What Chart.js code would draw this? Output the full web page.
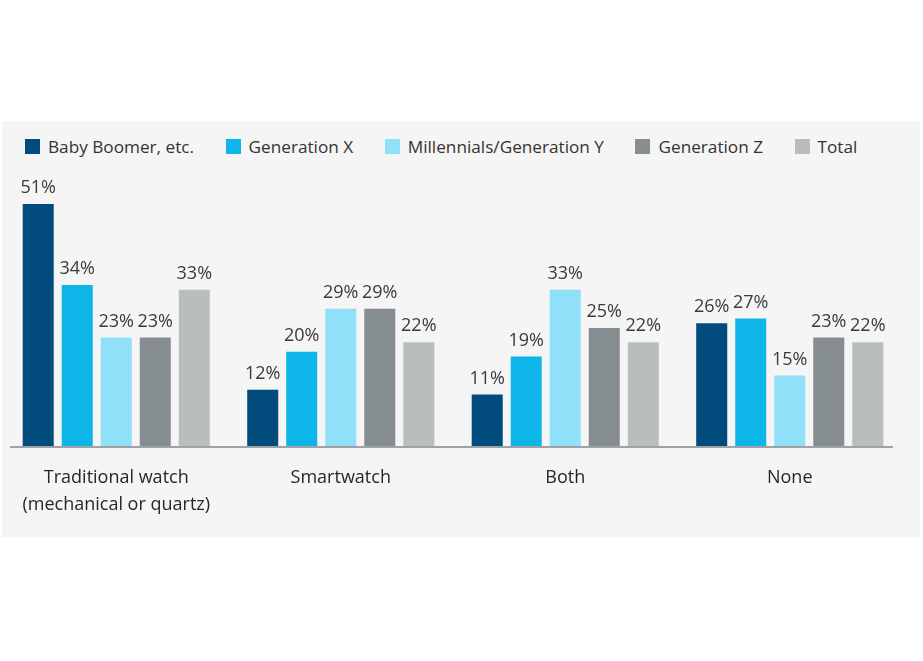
<!DOCTYPE html>
<html>
<head>
<meta charset="utf-8">
<script src="https://cdn.jsdelivr.net/npm/chart.js@4/dist/chart.umd.min.js"></script>
<style>
  html, body { margin: 0; padding: 0; background: #ffffff; }
  body { width: 923px; height: 661px; position: relative; overflow: hidden; font-family: "Open Sans", sans-serif; }
  #panel { position: absolute; left: 2px; top: 121px; width: 918px; height: 416px; background: #f5f5f5; }
  #legend { position: absolute; left: 25px; top: 135px; display: flex; align-items: center; font-size: 17.2px; color: #333; white-space: nowrap; }
  #legend .item { display: flex; align-items: center; margin-right: 31.5px; }
  #legend .box { width: 15px; height: 15px; margin-right: 8px; }
  #wrap { position: absolute; left: 0; top: 0; width: 923px; height: 661px; }
</style>
</head>
<body>
<div id="panel"></div>
<div id="legend"></div>
<div id="wrap"><canvas id="c" width="923" height="661"></canvas></div>
<script>
const categories = [["Traditional watch", "(mechanical or quartz)"], "Smartwatch", "Both", "None"];
const seriesNames = ["Baby Boomer, etc.", "Generation X", "Millennials/Generation Y", "Generation Z", "Total"];
const babyBoomer = [51, 12, 11, 26];
const generationX = [34, 20, 19, 27];
const millennials = [23, 29, 33, 15];
const generationZ = [23, 29, 25, 23];
const total = [33, 22, 22, 22];
const seriesColors = ["#014b7d", "#0db5e8", "#8fe0f8", "#878e91", "#b8bebe"];

const seriesValues = [babyBoomer, generationX, millennials, generationZ, total];

// HTML legend
const legendEl = document.getElementById('legend');
seriesNames.forEach((name, i) => {
  const it = document.createElement('div');
  it.className = 'item';
  const b = document.createElement('span');
  b.className = 'box';
  b.style.background = seriesColors[i];
  const t = document.createElement('span');
  t.textContent = name;
  it.appendChild(b); it.appendChild(t);
  legendEl.appendChild(it);
});

const valueLabels = {
  id: 'valueLabels',
  afterDatasetsDraw(chart) {
    const ctx = chart.ctx;
    ctx.save();
    ctx.font = '18px "Open Sans"';
    ctx.fillStyle = '#3a3a3a';
    ctx.textAlign = 'center';
    ctx.textBaseline = 'bottom';
    chart.data.datasets.forEach((ds, i) => {
      const meta = chart.getDatasetMeta(i);
      meta.data.forEach((el, j) => {
        ctx.fillText(ds.data[j] + '%', el.x, el.y - 7);
      });
    });
    // baseline axis line
    const y = chart.scales.y.getPixelForValue(0);
    ctx.strokeStyle = '#9ea3a6';
    ctx.lineWidth = 2;
    ctx.beginPath();
    ctx.moveTo(10, y);
    ctx.lineTo(893, y);
    ctx.stroke();
    ctx.restore();
  }
};

new Chart(document.getElementById('c'), {
  type: 'bar',
  data: {
    labels: categories,
    datasets: seriesNames.map((name, i) => ({
      label: name,
      data: seriesValues[i],
      backgroundColor: seriesColors[i],
      borderWidth: 0,
      categoryPercentage: 0.869,
      barPercentage: 0.795
    }))
  },
  options: {
    responsive: false,
    animation: false,
    devicePixelRatio: 1,
    layout: { padding: { left: 4, right: 21, top: 185, bottom: 126 } },
    plugins: {
      legend: { display: false },
      tooltip: { enabled: false }
    },
    scales: {
      x: {
        grid: { display: false, drawTicks: false },
        border: { display: false },
        ticks: {
          color: '#262626',
          font: { family: 'Open Sans', size: 18, lineHeight: 1.5 },
          padding: 17,
          maxRotation: 0,
          autoSkip: false
        }
      },
      y: {
        display: false,
        min: 0,
        max: 55
      }
    }
  },
  plugins: [valueLabels]
});
</script>
</body>
</html>
